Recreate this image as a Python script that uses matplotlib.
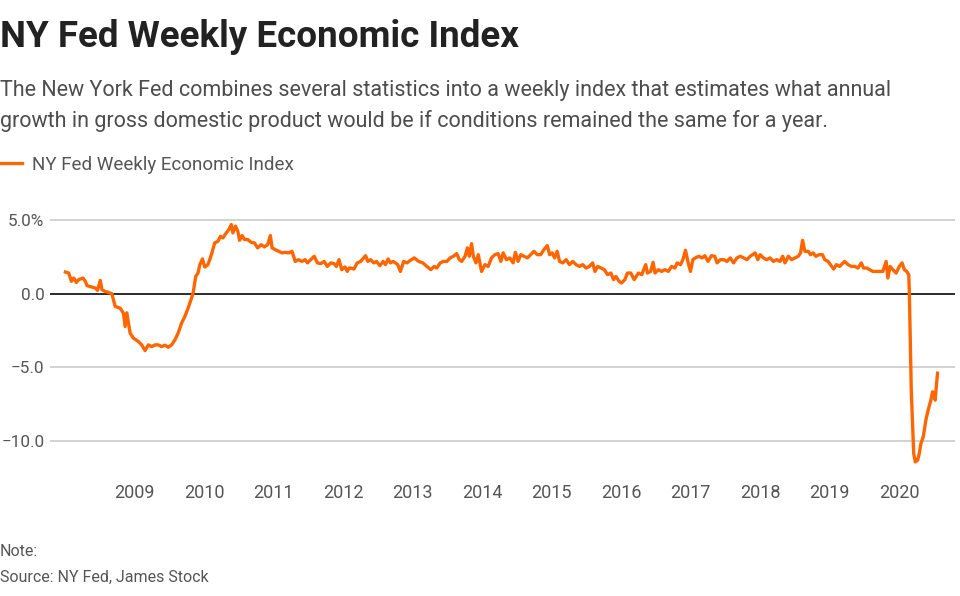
import matplotlib
matplotlib.use('Agg')
import matplotlib.pyplot as plt
import numpy as np

plt.rcParams['font.family'] = ['Roboto', 'DejaVu Sans']

title = 'NY Fed Weekly Economic Index'
subtitle = ('The New York Fed combines several statistics into a weekly index that estimates what annual\n'
            'growth in gross domestic product would be if conditions remained the same for a year.')
series_name = 'NY Fed Weekly Economic Index'
note = 'Note:'
source = 'Source: NY Fed, James Stock'

year_ticks = list(range(2009, 2021))
y_ticks = [5, 0, -5, -10]
y_labels = ['5.0%', '0.0', '\u22125.0', '\u221210.0']

# decimal year / index value (%)
dates = [
    2008.007, 2008.054, 2008.093, 2008.126, 2008.165, 2008.197, 2008.260, 2008.293, 2008.318, 2008.389,
    2008.436, 2008.469, 2008.508, 2008.532, 2008.579, 2008.627, 2008.675, 2008.722, 2008.794, 2008.841,
    2008.866, 2008.890, 2008.937, 2008.984, 2009.056, 2009.104, 2009.152, 2009.199, 2009.247, 2009.295,
    2009.342, 2009.391, 2009.438, 2009.485, 2009.534, 2009.581, 2009.628, 2009.677, 2009.724, 2009.771,
    2009.820, 2009.843, 2009.881, 2009.914, 2009.938, 2009.977, 2010.010, 2010.057, 2010.106, 2010.153,
    2010.200, 2010.235, 2010.272, 2010.320, 2010.358, 2010.392, 2010.415, 2010.453, 2010.486, 2010.511,
    2010.549, 2010.582, 2010.629, 2010.678, 2010.725, 2010.772, 2010.821, 2010.868, 2010.916, 2010.954,
    2010.979, 2011.026, 2011.073, 2011.122, 2011.169, 2011.216, 2011.265, 2011.312, 2011.359, 2011.408,
    2011.455, 2011.488, 2011.536, 2011.584, 2011.631, 2011.679, 2011.727, 2011.774, 2011.823, 2011.870,
    2011.903, 2011.941, 2011.980, 2012.027, 2012.060, 2012.085, 2012.109, 2012.156, 2012.203, 2012.252,
    2012.323, 2012.356, 2012.395, 2012.442, 2012.481, 2012.528, 2012.575, 2012.609, 2012.647, 2012.681,
    2012.718, 2012.753, 2012.786, 2012.824, 2012.871, 2012.918, 2012.967, 2013.024, 2013.086, 2013.147,
    2013.205, 2013.262, 2013.310, 2013.348, 2013.396, 2013.443, 2013.491, 2013.539, 2013.587, 2013.634,
    2013.672, 2013.705, 2013.754, 2013.787, 2013.815, 2013.848, 2013.873, 2013.911, 2013.944, 2013.991,
    2014.040, 2014.087, 2014.134, 2014.183, 2014.230, 2014.269, 2014.302, 2014.349, 2014.398, 2014.445,
    2014.478, 2014.516, 2014.555, 2014.602, 2014.650, 2014.698, 2014.745, 2014.792, 2014.841, 2014.888,
    2014.936, 2014.970, 2015.007, 2015.042, 2015.079, 2015.113, 2015.160, 2015.208, 2015.256, 2015.303,
    2015.350, 2015.399, 2015.446, 2015.494, 2015.542, 2015.589, 2015.622, 2015.661, 2015.708, 2015.757,
    2015.804, 2015.851, 2015.890, 2015.923, 2015.971, 2016.004, 2016.052, 2016.090, 2016.137, 2016.186,
    2016.233, 2016.247, 2016.295, 2016.352, 2016.376, 2016.423, 2016.458, 2016.486, 2016.534, 2016.581,
    2016.629, 2016.677, 2016.724, 2016.772, 2016.805, 2016.853, 2016.887, 2016.924, 2016.963, 2016.996,
    2017.030, 2017.067, 2017.115, 2017.163, 2017.202, 2017.249, 2017.296, 2017.345, 2017.378, 2017.425,
    2017.473, 2017.521, 2017.568, 2017.616, 2017.664, 2017.711, 2017.760, 2017.807, 2017.854, 2017.926,
    2017.964, 2017.997, 2018.045, 2018.093, 2018.140, 2018.189, 2018.236, 2018.283, 2018.322, 2018.355,
    2018.403, 2018.450, 2018.498, 2018.546, 2018.579, 2018.608, 2018.641, 2018.689, 2018.722, 2018.761,
    2018.798, 2018.846, 2018.894, 2018.927, 2018.975, 2019.008, 2019.056, 2019.094, 2019.141, 2019.190,
    2019.213, 2019.262, 2019.309, 2019.356, 2019.405, 2019.452, 2019.485, 2019.534, 2019.571, 2019.619,
    2019.667, 2019.714, 2019.762, 2019.810, 2019.834, 2019.867, 2019.906, 2019.953, 2020.000, 2020.039,
    2020.072, 2020.106, 2020.135, 2020.143, 2020.157, 2020.171, 2020.191, 2020.206, 2020.229, 2020.263,
    2020.286, 2020.310, 2020.343, 2020.381, 2020.414, 2020.453, 2020.477, 2020.500, 2020.515, 2020.535,
    2020.549,
]
values = [
    1.48, 1.41, 0.84, 1.07, 0.77, 0.96, 1.07, 0.84, 0.55, 0.45,
    0.39, 0.23, 0.91, 0.27, 0.16, 0.09, 0.00, -0.86, -0.98, -1.32,
    -2.23, -1.30, -2.68, -3.02, -3.25, -3.48, -3.87, -3.48, -3.60, -3.48,
    -3.48, -3.60, -3.50, -3.64, -3.48, -3.14, -2.68, -2.00, -1.55, -0.98,
    -0.30, 0.05, 1.18, 1.41, 1.95, 2.37, 1.82, 1.98, 2.66, 3.46,
    3.57, 3.91, 3.80, 4.14, 4.37, 4.71, 4.14, 4.60, 4.25, 3.64,
    3.96, 3.69, 3.69, 3.50, 3.46, 3.12, 3.34, 3.19, 3.34, 3.96,
    3.12, 3.00, 2.89, 2.78, 2.82, 2.78, 2.89, 2.20, 2.32, 2.20,
    2.32, 2.10, 2.32, 2.55, 2.10, 2.05, 2.20, 1.86, 2.10, 2.05,
    1.86, 2.32, 1.64, 1.82, 1.52, 1.75, 1.75, 1.68, 2.10, 2.20,
    2.59, 2.20, 2.32, 2.10, 2.20, 1.91, 2.20, 1.98, 2.37, 2.10,
    2.20, 2.10, 1.98, 1.52, 2.20, 2.10, 2.27, 2.44, 2.20, 2.10,
    1.86, 1.64, 1.86, 1.75, 2.10, 2.20, 2.20, 2.44, 2.55, 2.73,
    2.32, 2.20, 2.55, 3.12, 2.55, 3.41, 2.55, 2.10, 2.66, 1.52,
    1.98, 1.86, 2.44, 2.66, 2.73, 2.20, 2.78, 2.32, 2.44, 2.10,
    2.82, 2.20, 2.66, 2.55, 2.44, 2.66, 2.89, 2.66, 2.66, 3.00,
    3.28, 2.66, 2.78, 2.44, 2.89, 2.20, 2.10, 2.32, 1.98, 2.20,
    1.98, 1.86, 1.98, 1.75, 1.86, 2.10, 1.52, 1.86, 1.75, 1.64,
    1.30, 1.41, 0.96, 1.18, 0.84, 0.73, 0.96, 1.41, 1.41, 0.96,
    1.30, 1.41, 1.30, 1.98, 1.41, 1.52, 2.14, 1.41, 1.64, 1.52,
    1.64, 1.52, 1.86, 1.75, 2.10, 1.98, 2.32, 2.96, 2.10, 1.52,
    2.32, 2.44, 2.55, 2.44, 2.59, 2.20, 2.59, 2.55, 2.10, 2.32,
    2.32, 2.20, 2.44, 2.10, 2.44, 2.55, 2.44, 2.32, 2.55, 2.78,
    2.32, 2.66, 2.44, 2.32, 2.44, 2.20, 2.32, 2.20, 2.55, 2.10,
    2.55, 2.32, 2.44, 2.55, 2.78, 3.64, 2.89, 2.89, 2.66, 2.78,
    2.55, 2.66, 2.66, 2.32, 2.20, 1.98, 1.68, 1.98, 1.86, 2.10,
    2.20, 1.98, 1.86, 1.86, 1.75, 2.10, 1.75, 1.75, 1.64, 1.52,
    1.52, 1.52, 1.52, 2.20, 1.07, 1.86, 1.64, 1.41, 1.86, 2.10,
    1.64, 1.52, 1.30, 0.20, -3.14, -6.55, -9.06, -10.87, -11.45, -11.33,
    -10.87, -10.19, -9.74, -8.60, -7.92, -7.24, -6.67, -6.89, -7.24, -6.10,
    -5.41,
]

W, H = 960, 596
fig = plt.figure(figsize=(W / 100, H / 100), dpi=100)
fig.patch.set_facecolor('white')
ax = fig.add_axes([50 / W, 1 - 473 / H, 905 / W, 263 / H])

orange = '#ff6600'
line, = ax.plot(dates, values, color=orange, lw=2.4, solid_joinstyle='round', zorder=3)

ax.set_xlim(2007.785, 2020.80)
ax.set_ylim(-12.2, 5.7)
ax.set_yticks(y_ticks)
ax.set_yticklabels(y_labels)
ax.set_xticks(year_ticks)
ax.set_xticklabels([str(y) for y in year_ticks])
ax.tick_params(axis='both', length=0, labelsize=13, colors='#555555')
ax.tick_params(axis='y', labelsize=12.3, pad=4)
ax.tick_params(axis='x', pad=8)
for s in ax.spines.values():
    s.set_visible(False)
ax.grid(axis='y', color='#cfcfcf', lw=1.3)
ax.grid(axis='x', visible=False)
ax.axhline(0, color='#111111', lw=1.2, zorder=2)

fig.text(0, 1 - 37 / H, title, fontsize=26.5, fontweight='bold', color='#222222', va='center', ha='left')
fig.text(0, 1 - 106 / H, subtitle, fontsize=15.5, color='#4d4d4d',
         va='center', ha='left', linespacing=1.5)
fig.legend([line], [series_name], loc='center left', bbox_to_anchor=(0, 1 - 165 / H),
           frameon=False, fontsize=13.5, handlelength=1.2, handletextpad=0.5,
           borderaxespad=0, borderpad=0, labelcolor='#555555')
fig.text(0, 1 - 551 / H, note, fontsize=11.5, color='#555555', va='center', ha='left')
fig.text(0, 1 - 577 / H, source, fontsize=11.5, color='#555555', va='center', ha='left')

fig.savefig('out.png', dpi=100)
